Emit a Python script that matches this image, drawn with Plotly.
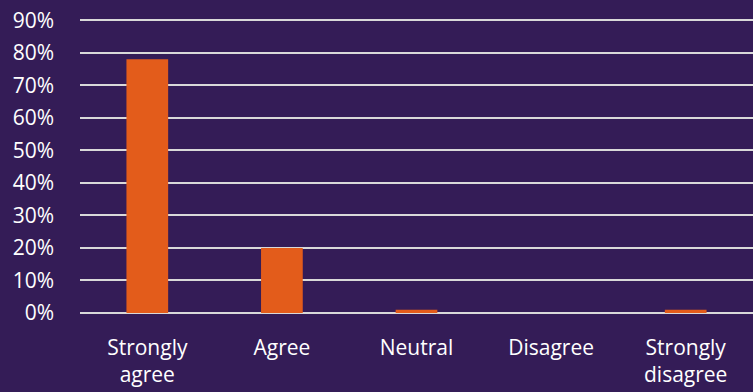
import plotly.graph_objects as go

categories = ["Strongly<br>agree", "Agree", "Neutral", "Disagree", "Strongly<br>disagree"]
shares = [0.78, 0.20, 0.01, 0.0, 0.01]
y_ticks = [i / 10 for i in range(10)]
y_tick_labels = [f"{i * 10}%" for i in range(10)]

BG = "#341C57"
BAR = "#E35C1B"
GRID = "#D9D9D9"
FONT = dict(family="Open Sans, Noto Sans, sans-serif", size=21, color="#FFFFFF")

fig = go.Figure(
    go.Bar(
        x=categories,
        y=shares,
        marker=dict(color=BAR, line=dict(width=0)),
        hoverinfo="x+y",
    )
)

fig.update_layout(
    width=753,
    height=392,
    margin=dict(l=80, r=0, t=17, b=79),
    paper_bgcolor=BG,
    plot_bgcolor=BG,
    font=FONT,
    bargap=0.69,
    showlegend=False,
)

fig.update_xaxes(
    showgrid=False,
    showline=False,
    zeroline=False,
    ticks="",
    ticklabelstandoff=20,
    tickfont=FONT,
)
fig.update_yaxes(
    range=[0, 0.91],
    tickvals=y_ticks,
    ticktext=y_tick_labels,
    showgrid=True,
    gridcolor=GRID,
    gridwidth=1.5,
    zeroline=True,
    zerolinecolor=GRID,
    zerolinewidth=1.5,
    ticks="",
    ticklabelstandoff=25,
    tickfont=FONT,
)

fig.write_html("out.html")
